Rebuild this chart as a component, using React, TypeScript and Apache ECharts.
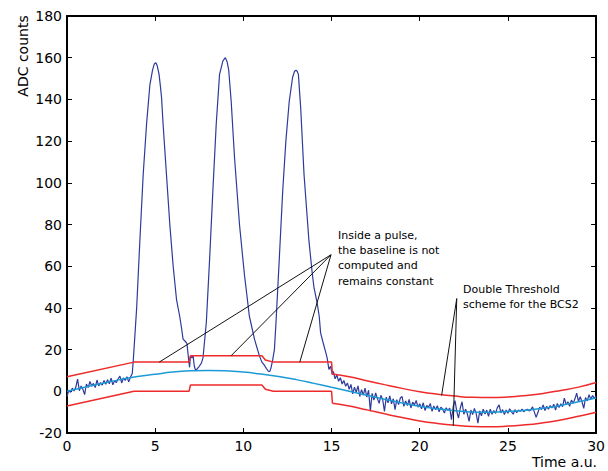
import React, { useEffect, useRef } from "react";
import * as echarts from "echarts";

// ---- Data ----
// Noisy signal before the first pulse, sampled every 0.1 from t = 0.0
const noiseHead = [
  -2.5, 0.5, -0.5, 1.5, 0.2, 2.0, 5.8, 0.3, 2.5, 1.0,
  -1.6, 3.5, 1.8, 4.7, 2.5, 3.8, 1.8, 5.4, 2.6, 4.2,
  3.0, 5.2, 3.4, 5.6, 3.6, 6.3, 3.1, 5.0, 4.2, 6.0,
  7.3, 4.0, 6.4, 5.2, 7.0, 4.5, 6.8, 8.5,
];
const noiseHeadStart = 0;

// The three pulses (time, ADC)
const pulseTime = [
  3.76, 3.95, 4.13, 4.32, 4.51, 4.7, 4.85, 4.95, 5.04, 5.12, 5.22, 5.3, 5.36, 5.45, 5.64, 5.83, 6.02, 6.21, 6.39, 6.5, 6.58, 6.7, 6.8, 6.9, 6.95, 7.0, 7.08, 7.15, 7.22, 7.3, 7.4, 7.5, 7.62,
  7.71, 7.9, 8.09, 8.27, 8.46, 8.65, 8.84, 8.98, 9.08, 9.17, 9.31, 9.5, 9.78, 10.06, 10.34, 10.5, 10.63, 10.91, 11.05, 11.19, 11.3, 11.43, 11.5, 11.56, 11.66, 11.76,
  11.85, 12.04, 12.23, 12.41, 12.6, 12.79, 12.9, 12.98, 13.05, 13.12, 13.25, 13.44, 13.72, 13.9, 14.0, 14.19, 14.3, 14.38, 14.5, 14.66, 14.75, 14.85, 14.95, 15.04,
];
const pulseADC = [
  15, 40, 72, 104, 128, 147, 154, 157, 157.6, 156, 152, 146, 141, 128, 104, 80, 60, 44, 36, 30, 25, 24, 23, 15, 11.5, 17, 16, 17, 12, 9.8, 11, 12, 13.5,
  16, 33, 64, 96, 128, 152, 158.5, 160, 158, 154, 139, 112, 80, 56, 36, 30, 25, 17, 14, 12.5, 11, 9.5, 9.6, 11, 15, 20,
  33, 64, 96, 120, 139, 150.5, 153.5, 154, 153.5, 152, 136, 104, 72, 57, 50, 42, 36, 28, 24, 19, 16, 10.5, 12, 8,
];

// Noisy signal after the pulses, sampled every 0.1 from t = 15.1
const noiseTail = [
  9.5, 6.0, 7.8, 4.8, 6.5, 3.5, 5.2, 2.4, 4.0,
  1.0, 3.3, -1.2, 2.0, -0.5, 2.6, -2.5, 0.8, -1.8, 1.5,
  -2.8, 0.5, -9.5, -1.0, -4.2, -0.8, -3.5, -5.8, -1.9, -4.0,
  -9.6, -2.8, -5.5, -2.2, -6.0, -3.6, -8.8, -4.0, -6.4, -3.2,
  -2.5, -7.2, -4.6, -6.8, -3.9, -8.0, -5.2, -6.5, -4.4, -7.6,
  -6.0, -8.4, -5.5, -9.2, -6.8, -7.6, -5.9, -9.6, -7.0, -8.8,
  -6.9, -9.8, -7.6, -8.6, -10.4, -7.9, -9.2, -8.0, -13.6, -7.2,
  -4.5, -9.6, -12.8, -8.0, -5.0, -11.0, -8.6, -10.8, -14.4, -9.0,
  -11.2, -8.2, -10.6, -15.3, -9.4, -11.8, -8.6, -10.9, -9.0, -12.0,
  -8.6, -11.0, -9.2, -10.6, -7.8, -6.5, -10.4, -8.8, -11.2, -9.0,
  -10.5, -8.4, -9.8, -11.0, -8.8, -10.2, -9.0, -9.6, -8.5, -9.8,
  -9.0, -8.6, -9.4, -8.8, -7.5, -10.0, -12.5, -10.2, -7.6, -8.8,
  -6.5, -9.2, -7.2, -8.6, -6.8, -8.0, -6.2, -9.0, -5.8, -7.8,
  -6.0, -7.4, -3.3, -6.4, -5.0, -7.2, -4.2, -5.8, -3.6, -0.9,
  -4.8, -2.6, -5.0, -8.2, -3.0, -4.6, -1.6, -3.8, -2.0, -3.4, -2.2,
];
const noiseTailStart = 15.1;
const noiseStep = 0.1;

// True baseline (cyan), every 1 time unit from 0 to 30
const baselineADC = [
  0, 1.9, 3.8, 5.6, 7.1, 8.2, 9.2, 9.8, 10, 9.8,
  9.2, 8.3, 7.1, 5.6, 3.8, 1.9, 0, -1.9, -3.8, -5.6,
  -7.2, -8.4, -9.3, -9.9, -10, -9.7, -9.1, -8.1, -6.8, -5.0, -3.2,
];

// Double threshold (red), held part (0 .. 15.05)
const thrHeldTime = [0, 3.8, 6.92, 7.0, 11.05, 11.25, 11.7, 15.0, 15.05];
const thrHeldUpper = [7, 14, 14, 17, 17, 15, 14, 14, 8.3];
const thrHeldLower = [-7, 0, 0, 3, 3, 1, 0, 0, -5.7];
// Double threshold (red), tracking part (15.05 .. 30)
const thrTrackTime = [15.05, 16, 17, 18, 19, 20, 21, 22, 23, 24, 25, 26, 27, 28, 29, 30];
const thrTrackUpper = [8.3, 7, 5.1, 3.2, 1.4, -0.2, -1.4, -2.3, -2.9, -3.0, -2.7, -2.0, -1.0, 0.4, 2.0, 4.2];
const thrTrackLower = [-5.7, -7, -8.9, -10.8, -12.6, -14.2, -15.4, -16.3, -16.9, -17.0, -16.7, -16.1, -15.1, -13.8, -12.0, -10.0];

// Annotation pointer lines (from, to) in data coordinates
const pulseNoteFrom = [14.97, 65.5];
const pulseNoteTargets = [[5.23, 14], [9.3, 17], [13.2, 14]];
const thrNoteFrom = [22.1, 44.5];
const thrNoteTargets = [[21.24, -2.0], [21.9, -16.5]];

const xTicks = { min: 0, max: 30, interval: 5 };
const yTicks = { min: -20, max: 180, interval: 20 };

const FONT = "DejaVu Sans";

export default function App() {
  const ref = useRef<HTMLDivElement>(null);
  useEffect(() => {
    if (!ref.current) return;
    const chart = echarts.init(ref.current, undefined, { renderer: "svg" });

    const signal: number[][] = [];
    noiseHead.forEach((v, i) => signal.push([+(noiseHeadStart + i * noiseStep).toFixed(2), v]));
    pulseTime.forEach((t, i) => signal.push([t, pulseADC[i]]));
    noiseTail.forEach((v, i) => signal.push([+(noiseTailStart + i * noiseStep).toFixed(2), v]));

    const baseline = baselineADC.map((v, i) => [i, v]);
    const zip = (a: number[], b: number[]) => a.map((t, i) => [t, b[i]]);

    const red = "#ee2a2a";
    const lineBase = { type: "line" as const, symbol: "none", silent: true, xAxisIndex: 0, yAxisIndex: 0 };

    const annot: any[] = [];
    pulseNoteTargets.forEach((p) =>
      annot.push({ ...lineBase, data: [pulseNoteFrom, p], lineStyle: { color: "#111", width: 1 }, z: 5 })
    );
    thrNoteTargets.forEach((p) =>
      annot.push({ ...lineBase, data: [thrNoteFrom, p], lineStyle: { color: "#111", width: 1 }, z: 5 })
    );

    const axisCommonX = {
      type: "value" as const,
      min: xTicks.min,
      max: xTicks.max,
      interval: xTicks.interval,
      splitLine: { show: false },
      axisLine: { show: true, onZero: false, lineStyle: { color: "#000", width: 2 } },
      axisTick: { show: true, inside: true, length: 5, lineStyle: { color: "#000", width: 1 } },
    };
    const axisCommonY = {
      type: "value" as const,
      min: yTicks.min,
      max: yTicks.max,
      interval: yTicks.interval,
      splitLine: { show: false },
      axisLine: { show: true, onZero: false, lineStyle: { color: "#000", width: 2 } },
      axisTick: { show: true, inside: true, length: 5, lineStyle: { color: "#000", width: 1 } },
    };

    chart.setOption({
      animation: false,
      backgroundColor: "#fff",
      grid: { left: 67, right: 9, top: 16, bottom: 38, containLabel: false },
      xAxis: [
        {
          ...axisCommonX,
          position: "bottom",
          axisLabel: { show: true, color: "#000", fontSize: 14, fontFamily: FONT, margin: 6 },
        },
        { ...axisCommonX, position: "top", axisLabel: { show: false } },
      ],
      yAxis: [
        {
          ...axisCommonY,
          position: "left",
          axisLabel: { show: true, color: "#000", fontSize: 14, fontFamily: FONT, margin: 5 },
        },
        { ...axisCommonY, position: "right", axisLabel: { show: false } },
      ],
      series: [
        { ...lineBase, name: "signal", data: signal, lineStyle: { color: "#2d3a9c", width: 1.2 }, z: 2 },
        { ...lineBase, name: "upperHeld", data: zip(thrHeldTime, thrHeldUpper), lineStyle: { color: red, width: 1.5 }, z: 3 },
        { ...lineBase, name: "lowerHeld", data: zip(thrHeldTime, thrHeldLower), lineStyle: { color: red, width: 1.5 }, z: 3 },
        { ...lineBase, name: "upperTrack", smooth: true, data: zip(thrTrackTime, thrTrackUpper), lineStyle: { color: red, width: 1.5 }, z: 3 },
        { ...lineBase, name: "lowerTrack", smooth: true, data: zip(thrTrackTime, thrTrackLower), lineStyle: { color: red, width: 1.5 }, z: 3 },
        { ...lineBase, name: "baseline", smooth: true, data: baseline, lineStyle: { color: "#1c9ad6", width: 1.5 }, z: 4 },
        ...annot,
      ],
      graphic: [
        {
          type: "text",
          x: 22.5,
          y: 56,
          rotation: Math.PI / 2,
          style: { text: "ADC counts", fill: "#000", font: `14px '${FONT}'`, textAlign: "center", textVerticalAlign: "middle" },
        },
        {
          type: "text",
          x: 597,
          y: 462,
          style: { text: "Time a.u.", fill: "#000", font: `14px '${FONT}'`, textAlign: "right", textVerticalAlign: "middle" },
        },
        {
          type: "text",
          x: 338,
          y: 227.5,
          style: {
            text: "Inside a pulse,\nthe baseline is not\ncomputed and\nremains constant",
            fill: "#000",
            font: `11px '${FONT}'`,
            lineHeight: 15.3,
            textAlign: "left",
            textVerticalAlign: "top",
          },
        },
        {
          type: "text",
          x: 463,
          y: 282,
          style: {
            text: "Double Threshold\nscheme for the BCS2",
            fill: "#000",
            font: `11px '${FONT}'`,
            lineHeight: 14.7,
            textAlign: "left",
            textVerticalAlign: "top",
          },
        },
      ],
    });
    return () => chart.dispose();
  }, []);

  return <div ref={ref} style={{ position: "fixed", left: 0, top: 0, width: 608, height: 471 }} />;
}
